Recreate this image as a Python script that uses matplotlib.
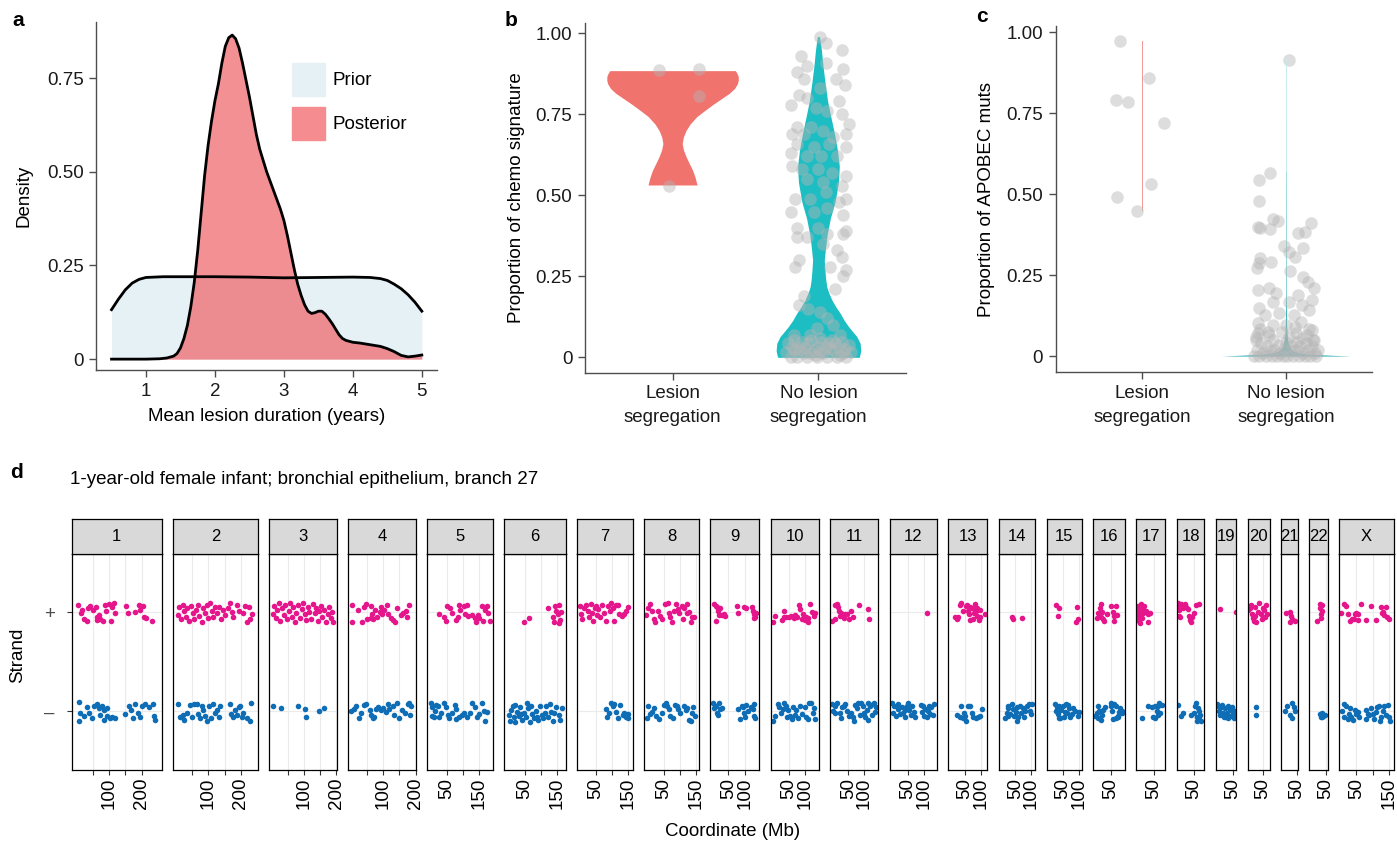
import numpy as np
import matplotlib
matplotlib.use('Agg')
import matplotlib.pyplot as plt
from matplotlib.patches import Patch

plt.rcParams['font.family'] = ['Liberation Sans', 'DejaVu Sans']

W, H = 1397, 842
fig = plt.figure(figsize=(W / 100, H / 100), dpi=100)


def box(x0, y0, x1, y1):
    # pixel box (top-left origin) -> figure rect
    return [x0 / W, 1 - y1 / H, (x1 - x0) / W, (y1 - y0) / H]


FS = 13.5
SPINE = '#4D4D4D'

# ---------------- panel a data ----------------
prior_x = [0.5, 0.6, 0.7, 0.8, 0.9, 1.0, 1.25, 1.5, 2.0, 2.5, 3.0, 3.5, 4.0, 4.25, 4.4, 4.5, 4.6, 4.7, 4.8, 4.9, 5.0]
prior_y = [0.132, 0.16, 0.185, 0.203, 0.213, 0.218, 0.22, 0.22, 0.22, 0.219, 0.217, 0.218, 0.219, 0.218, 0.215,
           0.21, 0.2, 0.188, 0.172, 0.152, 0.128]
post_x = [0.5, 0.8, 1.0, 1.2, 1.3, 1.4, 1.45, 1.5, 1.55, 1.6, 1.65, 1.7, 1.75, 1.8, 1.85, 1.9, 1.95, 2.0, 2.05,
          2.1, 2.15, 2.2, 2.25, 2.3, 2.35, 2.4, 2.45, 2.5, 2.55, 2.6, 2.65, 2.7, 2.75, 2.8, 2.85, 2.9, 2.95,
          3.0, 3.05, 3.1, 3.15, 3.2, 3.25, 3.3, 3.35, 3.4, 3.45, 3.5, 3.55, 3.6, 3.65, 3.7, 3.75, 3.8, 3.85,
          3.9, 4.0, 4.1, 4.2, 4.3, 4.4, 4.5, 4.6, 4.7, 4.8, 4.9, 5.0]
post_y = [0, 0, 0, 0.001, 0.003, 0.008, 0.015, 0.03, 0.055, 0.09, 0.14, 0.205, 0.29, 0.39, 0.49, 0.57, 0.635,
          0.69, 0.735, 0.79, 0.835, 0.858, 0.865, 0.855, 0.83, 0.79, 0.745, 0.7, 0.65, 0.6, 0.56, 0.53,
          0.5, 0.475, 0.45, 0.425, 0.4, 0.37, 0.33, 0.285, 0.24, 0.2, 0.17, 0.145, 0.128, 0.122, 0.124,
          0.128, 0.128, 0.12, 0.108, 0.095, 0.08, 0.065, 0.055, 0.05, 0.045, 0.043, 0.04, 0.037, 0.034,
          0.028, 0.02, 0.01, 0.006, 0.008, 0.011]

# ---------------- panel b data ----------------
categories = ['Lesion\nsegregation', 'No lesion\nsegregation']
b_les_y = [0.532, 0.555, 0.578, 0.60, 0.62, 0.64, 0.66, 0.68, 0.70, 0.72, 0.743, 0.76, 0.78, 0.80, 0.815,
           0.83, 0.845, 0.856, 0.868, 0.878, 0.885]
b_les_w = [0.168, 0.155, 0.137, 0.113, 0.092, 0.075, 0.066, 0.074, 0.092, 0.12, 0.166, 0.215, 0.275, 0.34,
           0.389, 0.425, 0.445, 0.451, 0.45, 0.44, 0.43]
b_no_y = [0, 0.02, 0.043, 0.064, 0.079, 0.095, 0.115, 0.136, 0.155, 0.177, 0.2, 0.218, 0.24, 0.26, 0.30,
          0.34, 0.38, 0.43, 0.48, 0.54, 0.59, 0.64, 0.69, 0.74, 0.79, 0.845, 0.9, 0.95, 0.99]
b_no_w = [0.28, 0.29, 0.286, 0.263, 0.235, 0.206, 0.175, 0.149, 0.12, 0.092, 0.07, 0.057, 0.05, 0.046, 0.04,
          0.049, 0.06, 0.082, 0.114, 0.137, 0.143, 0.13, 0.11, 0.086, 0.063, 0.046, 0.031, 0.02, 0.008]
b_les_pts = [(-0.09, 0.887), (0.18, 0.89), (0.18, 0.807), (-0.023, 0.53)]
b_no_pts = [(0.01, 0.99), (0.05, 0.97), (0.16, 0.95), (-0.12, 0.93), (-0.08, 0.90), (0.05, 0.91),
            (0.17, 0.89), (-0.15, 0.88), (-0.10, 0.86), (0.12, 0.86), (0.18, 0.84), (0.01, 0.83),
            (-0.13, 0.81), (-0.08, 0.80), (0.14, 0.79), (-0.19, 0.78), (-0.02, 0.77), (0.06, 0.76),
            (0.16, 0.75), (0.21, 0.72), (-0.15, 0.71), (-0.05, 0.71), (-0.18, 0.69), (-0.10, 0.69),
            (0.03, 0.70), (0.10, 0.68), (0.19, 0.69), (-0.15, 0.66), (-0.03, 0.65), (0.07, 0.66),
            (0.19, 0.65), (-0.19, 0.63), (-0.08, 0.62), (0.02, 0.62), (0.13, 0.62), (-0.18, 0.59),
            (-0.11, 0.58), (0.0, 0.58), (0.09, 0.57), (0.19, 0.56), (-0.08, 0.55), (0.03, 0.54),
            (0.16, 0.53), (0.05, 0.51), (-0.16, 0.49), (-0.06, 0.49), (0.14, 0.48), (0.19, 0.49),
            (-0.19, 0.45), (-0.03, 0.45), (0.06, 0.46), (0.17, 0.44), (-0.15, 0.40), (0.0, 0.40),
            (0.19, 0.39), (-0.15, 0.37), (-0.08, 0.37), (0.06, 0.38), (0.17, 0.38), (0.03, 0.35),
            (0.13, 0.33), (-0.13, 0.30), (0.16, 0.31), (-0.16, 0.28), (0.08, 0.28), (0.19, 0.27),
            (0.17, 0.25), (0.11, 0.21), (-0.10, 0.19), (-0.13, 0.16), (-0.07, 0.15), (0.01, 0.14),
            (0.06, 0.12), (0.10, 0.10), (-0.01, 0.09), (-0.17, 0.07), (-0.06, 0.07), (0.15, 0.07),
            (0.01, 0.06),
            (-0.21, 0.043), (-0.17, 0.023), (-0.14, 0.033), (-0.10, 0.012), (-0.07, 0.043), (-0.03, 0.023),
            (0.0, 0.033), (0.03, 0.012), (0.07, 0.043), (0.10, 0.023), (0.14, 0.033), (0.17, 0.012),
            (0.21, 0.038), (-0.19, 0.002), (-0.15, 0.0), (-0.11, 0.048), (-0.08, 0.0), (-0.05, 0.053),
            (-0.01, 0.0), (0.02, 0.048), (0.06, 0.0), (0.09, 0.053), (0.13, 0.0), (0.16, 0.048),
            (0.19, 0.0), (-0.18, 0.033), (-0.06, 0.012), (0.08, 0.028), (0.15, 0.007), (-0.17, 0.053),
            (-0.02, 0.007), (0.05, 0.033), (0.11, 0.043), (0.18, 0.025), (-0.13, 0.023), (-0.22, 0.017),
            (0.22, 0.017), (-0.09, 0.028), (0.01, 0.017)]

# ---------------- panel c data ----------------
c_les_y = [0.449, 0.974]
c_les_w = [0.0035, 0.0035]
c_no_y = [0, 0.003, 0.006, 0.01, 0.015, 0.022, 0.03, 0.045, 0.07, 0.1, 0.2, 0.57, 0.92]
c_no_w = [0.45, 0.3, 0.16, 0.09, 0.055, 0.035, 0.024, 0.014, 0.007, 0.004, 0.002, 0.0015, 0.0008]
c_les_pts = [(-0.154, 0.974), (0.046, 0.858), (-0.179, 0.791), (-0.097, 0.783), (0.156, 0.721),
             (0.064, 0.531), (-0.172, 0.492), (-0.034, 0.449)]
c_no_pts = [(0.023, 0.915), (-0.11, 0.564), (-0.184, 0.544), (-0.184, 0.48), (-0.092, 0.422), (-0.057, 0.418),
            (0.177, 0.41), (-0.195, 0.398), (-0.179, 0.394), (-0.11, 0.391), (0.087, 0.379), (0.133, 0.384),
            (-0.011, 0.34), (0.115, 0.333), (0.018, 0.322), (0.064, 0.307), (-0.179, 0.302), (-0.103, 0.291),
            (-0.189, 0.286), (-0.202, 0.271), (0.028, 0.264), (0.115, 0.245), (0.156, 0.23), (-0.195, 0.204),
            (-0.115, 0.209), (0.195, 0.209), (-0.069, 0.194), (0.087, 0.188), (0.184, 0.173), (0.023, 0.168),
            (-0.092, 0.168), (-0.184, 0.147), (0.11, 0.158), (0.161, 0.142), (-0.149, 0.127), (-0.046, 0.132),
            (0.057, 0.127), (-0.195, 0.101), (-0.092, 0.096), (0.0, 0.096), (0.103, 0.106), (0.184, 0.08),
            (-0.195, 0.07), (-0.126, 0.075), (0.069, 0.07), (0.149, 0.065), (0.195, 0.049), (-0.207, 0.049),
            (-0.22, 0.0), (-0.2, 0.02), (-0.19, 0.0), (-0.17, 0.04), (-0.16, 0.01), (-0.14, 0.0), (-0.13, 0.03),
            (-0.11, 0.015), (-0.1, 0.0), (-0.09, 0.05), (-0.08, 0.02), (-0.06, 0.0), (-0.05, 0.035),
            (-0.04, 0.01), (-0.02, 0.0), (-0.01, 0.025), (0.0, 0.045), (0.01, 0.0), (0.03, 0.015),
            (0.04, 0.03), (0.05, 0.0), (0.07, 0.02), (0.08, 0.045), (0.09, 0.0), (0.1, 0.03), (0.12, 0.01),
            (0.13, 0.0), (0.14, 0.04), (0.15, 0.02), (0.17, 0.0), (0.18, 0.03), (0.2, 0.01), (0.21, 0.0),
            (0.22, 0.02), (-0.21, 0.06), (-0.12, 0.065), (0.02, 0.06), (0.11, 0.055), (0.19, 0.05),
            (-0.18, 0.085), (-0.03, 0.075), (0.06, 0.09), (0.16, 0.085)]

# ---------------- panel d data (Mb, vertical jitter x100) ----------------
chroms = ['1', '2', '3', '4', '5', '6', '7', '8', '9', '10', '11', '12', '13', '14', '15', '16', '17',
          '18', '19', '20', '21', '22', 'X']
chrom_xlim = [(-15, 262), (-10, 253.5), (-6.6, 202), (-8, 201), (-11.8, 191), (-13.4, 178), (-7.4, 165),
              (-10.6, 157.6), (-7, 145.5), (-7, 143), (-5, 143), (-5.5, 140), (-1.2, 120), (-1.8, 112),
              (-0.6, 108), (-4, 94), (-5.7, 84.8), (-4, 81.7), (-4, 59.5), (2.6, 72), (1.4, 52.8),
              (-2.6, 54.3), (-4.3, 166.7)]
chrom_breaks = [[50, 100, 150, 200]] * 4 + [[50, 100, 150]] * 4 + [[50, 100]] * 7 + [[50]] * 7 + [[50, 100, 150]]
chrom_labels = [[100, 200]] * 4 + [[50, 150]] * 4 + [[50, 100]] * 7 + [[50]] * 7 + [[50, 150]]

plus_pts = [
    [(3, 7), (13, -1), (16, 2), (22, -7), (30, -9), (34, 4), (42, 6), (50, 2), (58, 5), (61, -5), (63, -8), (69, -3),
     (73, -7), (80, -9), (88, 7), (91, 1), (99, 8), (106, -9), (109, 5), (114, 9), (119, -1), (153, 6), (157, -1),
     (181, 0), (191, 7), (196, 2), (204, 6), (208, -5), (215, -6), (232, -9)],
    [(7, -3), (10, 5), (14, -7), (21, 7), (25, 1), (31, -5), (35, 4), (41, -9), (45, 6), (52, -1), (56, -7), (62, 2),
     (69, 7), (72, -4), (79, -10), (84, 4), (90, -1), (95, 7), (100, -6), (105, 9), (110, 1), (115, -5), (121, 5),
     (126, -1), (134, 5), (138, -7), (144, 2), (151, -3), (159, 4), (165, 9), (172, 0), (177, -5), (187, 7),
     (193, 1), (206, -1), (213, 6), (220, -10), (224, 5), (229, -7), (234, -2)],
    [(3, -2), (7, 6), (13, -6), (17, 2), (23, 9), (27, -9), (33, 4), (37, -3), (43, 7), (47, -7), (53, 1), (57, 9),
     (63, -5), (67, 5), (73, -10), (77, -1), (83, 7), (87, -6), (93, 3), (97, 9), (103, -2), (107, -8), (113, 5),
     (117, 0), (123, -7), (127, 8), (133, -1), (137, 4), (143, -9), (147, 1), (153, 6), (157, -5), (163, 2),
     (167, -10), (173, -2), (177, 5), (183, -6), (187, 0), (191, -10)],
    [(3, 7), (3, -10), (22, 2), (34, -10), (40, 5), (47, 8), (50, -7), (63, 6), (63, -6), (65, -2), (68, -7), (75, 2),
     (81, -5), (89, 0), (94, 5), (96, -2), (104, 2), (112, 7), (116, -2), (123, -6), (130, -8), (137, -10), (143, 4),
     (156, -3), (161, -1), (171, 1), (174, -5), (181, 7)],
    [(24, -2), (41, -5), (45, -9), (51, 6), (58, 4), (66, -1), (79, -8), (83, -5), (87, 7), (90, 2), (101, 6),
     (104, -2), (111, 7), (116, -4), (127, -3), (135, -6), (140, -10), (146, -3), (148, -6), (158, 6), (162, -9),
     (167, 2), (174, 6), (177, -1), (182, -9)],
    [(47, -10), (63, -6), (121, 4), (137, -5), (140, -10), (145, 6), (148, 1), (152, -2), (158, 7), (161, -8),
     (163, 0), (157, -11)],
    [(1, 6), (5, -2), (8, -7), (15, 4), (21, 7), (26, 1), (29, -5), (34, 8), (39, -1), (42, -9), (46, 4), (52, 6),
     (54, -3), (56, 3), (62, -5), (69, 7), (74, -1), (80, -9), (87, 6), (93, 1), (97, 9), (103, 4), (107, -9),
     (113, 7), (120, 7), (123, -2), (131, -4), (138, -2), (144, 1), (151, 5)],
    [(-5, -3), (2, 4), (6, 8), (12, 1), (20, -7), (23, -10), (31, 1), (38, -4), (45, -7), (52, 8), (63, 9), (66, -1),
     (70, -5), (74, -10), (81, 1), (88, 8), (92, 3), (98, -1), (106, 6), (109, -7), (113, 4), (120, -1), (122, 8),
     (127, 0), (133, -10), (138, -5), (144, -5)],
    [(5, 8), (10, 6), (15, 5), (12, -9), (18, 1), (22, -3), (25, 4), (30, -3), (35, -2), (38, -4), (75, 6), (78, -1),
     (98, 5), (105, 4), (122, 5), (125, 1), (130, -2), (132, -5), (128, -6), (135, -1)],
    [(-1, -10), (6, -4), (27, -8), (33, 1), (35, -5), (41, -5), (51, -5), (56, -4), (64, -6), (69, -3), (75, -5),
     (82, 7), (85, 3), (89, -7), (93, -2), (98, -5), (99, -8), (103, -5), (108, -6), (110, -10), (116, 8),
     (121, 0), (127, -4), (129, -1)],
    [(0, -9), (8, -7), (10, 7), (16, 8), (18, 5), (20, 1), (23, -4), (29, -1), (37, -6), (41, -2), (47, -2), (51, -7),
     (57, 1), (64, -5), (82, 7), (112, 3), (115, -7)],
    [(109, -1)],
    [(19, -5), (26, -7), (30, -5), (36, 7), (40, 9), (46, 1), (53, 6), (56, 7), (60, 1), (63, -2), (66, 5), (68, -8),
     (73, 4), (77, -7), (79, -1), (81, 8), (84, 1), (87, 4), (89, -4), (94, -8), (97, -5), (99, 2), (114, -2)],
    [(41, -5), (43, -7), (71, -6)],
    [(29, 7), (39, 4), (35, -4), (92, 5), (97, -7), (89, -10)],
    [(7, -6), (12, -1), (17, 4), (20, 8), (24, 0), (27, -7), (30, -9), (40, -2), (52, 6), (57, 0), (60, -4), (62, -9),
     (67, 6), (70, -3), (22, -5)],
    [(-4, -4), (-1, 6), (1, 1), (1, -6), (4, -9), (7, -2), (7, -11), (10, 8), (12, 3), (14, -6), (17, -1), (20, 6),
     (24, 1), (30, -10), (32, -2), (38, -1)],
    [(0, 9), (2, 2), (4, -4), (7, 6), (7, -5), (10, 8), (15, 4), (21, 8), (25, 5), (31, 3), (35, -4), (38, -8),
     (41, -10), (45, -5), (49, -1), (56, 7), (64, 8)],
    [(9, 3), (58, 0)],
    [(5, 2), (10, 4), (13, 7), (17, -2), (20, -6), (23, -9), (25, 5), (27, -4), (30, -10), (35, 0), (37, 9),
     (43, -2), (48, -7), (51, 4), (54, 2), (58, -5), (61, 7), (64, -2)],
    [(16, -1), (29, 0), (32, -4), (36, -7), (43, -9), (29, -10)],
    [(23, -9), (33, -2), (33, -6), (30, 4), (36, 7), (38, 1), (30, 8)],
    [(3, -1), (13, 8), (18, 6), (23, -2), (31, -9), (37, -7), (41, -7), (44, -2), (49, -1), (54, -2), (54, -8),
     (64, 8), (78, -8), (95, 6), (110, -8), (125, 5), (129, -1), (133, 0), (136, -3), (141, 5), (143, -5),
     (151, -7)],
]
minus_pts = [
    [(6, 10), (9, -2), (6, -10), (22, -5), (30, 4), (37, -2), (47, -7), (54, 6), (63, 8), (68, 3), (73, -4), (78, 6),
     (83, 1), (85, -9), (94, -5), (94, 3), (102, -7), (109, -6), (119, -7), (150, -3), (160, 6), (167, 1),
     (174, -7), (181, 8), (188, -2), (194, -6), (201, 6), (212, 8), (222, 4), (235, 8), (239, -5), (242, -9)],
    [(7, 8), (12, -6), (21, -4), (25, -9), (33, -2), (43, 7), (48, -6), (56, 8), (64, 8), (69, -3), (74, -7), (79, 6),
     (84, 1), (90, -5), (95, -10), (103, 5), (107, -7), (113, 8), (121, -2), (126, 1), (131, -6), (136, 6),
     (165, 8), (169, -3), (175, -6), (182, 1), (187, -4), (193, 4), (198, 6), (203, -6), (208, -2), (218, -7),
     (227, -10), (231, 9)],
    [(5, 5), (30, 3), (83, 6), (103, 2), (105, -6), (147, 0), (163, 3)],
    [(1, 0), (9, 2), (16, 5), (24, -7), (30, -2), (42, 7), (47, 8), (58, 1), (63, -4), (68, -7), (73, -6), (78, 2),
     (85, 4), (92, 1), (99, 3), (109, -1), (114, 8), (119, 2), (130, 6), (135, -4), (143, 9), (150, -7), (158, 1),
     (166, -2), (176, 8), (181, 9), (186, 6), (184, -4)],
    [(0, 9), (3, 4), (3, -5), (9, -6), (11, 0), (16, 7), (22, 6), (24, -6), (32, -2), (41, 9), (48, 4), (53, -4),
     (55, -7), (64, -2), (74, 7), (79, 2), (79, -8), (87, -6), (95, -4), (101, -2), (111, -6), (122, -2), (127, 9),
     (135, 4), (143, -6), (148, -3), (158, 9), (164, 0), (167, -10), (174, -1)],
    [(1, -4), (5, -10), (8, 1), (13, 6), (18, -6), (22, -11), (22, 7), (26, -1), (32, -5), (36, 4), (39, -3),
     (43, -9), (47, -2), (53, -6), (57, 9), (61, 3), (66, -11), (71, 6), (74, -3), (78, -7), (85, 0), (87, -6),
     (92, -9), (97, 5), (103, -4), (108, -7), (113, -2), (116, 6), (124, -6), (129, 8), (131, -1), (137, -10),
     (142, -2), (148, 4), (155, -4), (161, -9), (166, 3)],
    [(80, 2), (85, -6), (90, -2), (97, 9), (103, 5), (107, 8), (113, -1), (120, -7), (125, 7), (134, -4), (138, -2),
     (144, -6), (148, -3), (151, -7)],
    [(-2, -7), (2, 5), (6, -3), (12, -1), (20, 3), (27, -5), (36, -8), (45, -2), (49, 7), (55, 9), (60, 5), (66, 2),
     (70, -5), (77, -7), (84, 7), (90, 5), (95, 2), (101, -2), (111, 6), (117, 1), (122, 3), (127, -9), (133, -10),
     (138, -2), (141, 4), (146, -5)],
    [(2, 9), (5, 3), (10, 5), (15, -2), (20, 9), (25, 2), (30, 3), (18, -4), (80, 2), (85, -8), (92, 6), (98, -2),
     (100, -6), (105, 7), (110, 0), (120, 4), (128, 8), (130, -5), (132, -7), (125, 2), (95, 4)],
    [(-1, -10), (6, -5), (15, 8), (20, 4), (25, -2), (30, 2), (35, 9), (41, 6), (44, -6), (48, 1), (54, -5), (58, -8),
     (61, 4), (67, -4), (72, 1), (77, -7), (85, 5), (89, -3), (98, 4), (103, -6), (108, -8), (113, 9), (119, 9),
     (124, -2), (127, 3), (131, -8)],
    [(0, 8), (3, 0), (8, -2), (10, 5), (16, 9), (23, -2), (27, -7), (31, 4), (37, 6), (41, 8), (47, 0), (51, -5),
     (59, -2), (64, -6), (69, -10), (71, 7), (78, 3), (80, 9), (85, -4), (90, 9), (95, 6), (98, -2), (102, -6),
     (108, 1), (110, -9), (112, 9), (118, 5), (122, -4), (125, 8), (131, 9), (133, -1), (136, 4)],
    [(3, 9), (6, -2), (9, 5), (13, -5), (19, 2), (21, 8), (27, -3), (32, 4), (37, -2), (42, -6), (43, 1), (47, 6),
     (52, 9), (54, 1), (60, -4), (64, 5), (70, -1), (74, -6), (91, 7), (95, -1), (98, 5), (101, -5), (105, 2),
     (111, -6), (113, 0), (115, 6), (118, -3), (123, 4), (129, -4), (132, 8)],
    [(26, -4), (36, -6), (40, 5), (46, -7), (48, -2), (50, -5), (53, -10), (60, 6), (66, 5), (73, -2), (77, -6),
     (84, -7), (91, -6), (97, -5), (104, 2)],
    [(19, -7), (23, -2), (26, 6), (29, 3), (33, -3), (39, 8), (43, 2), (46, -5), (51, -1), (56, 4), (59, -6), (66, 5),
     (69, -2), (73, 3), (76, -6), (81, 0), (86, 6), (91, 8), (96, 0), (99, -3), (101, 8), (56, -10), (29, -5)],
    [(25, 8), (29, 0), (32, 4), (35, -3), (39, 6), (42, -7), (45, 1), (49, 5), (52, -6), (57, -1), (59, 8), (62, -2),
     (67, 3), (72, -6), (77, -3), (82, 3), (87, 0), (95, -5), (99, -1), (65, 7), (37, -7)],
    [(2, -5), (7, -2), (10, -7), (12, 5), (14, 0), (20, -9), (24, -4), (27, 1), (32, 4), (50, 9), (52, 5), (54, 0),
     (57, -8), (62, 8), (67, 5), (67, -7), (72, -5), (74, -6), (77, -1), (80, 3), (84, -2), (87, 0)],
    [(14, -7), (32, 6), (43, 4), (48, -6), (53, -7), (53, 5), (58, 0), (61, 6), (63, -4), (65, 9), (68, -2), (74, 7)],
    [(0, 7), (10, -5), (15, -2), (41, -4), (49, -2), (52, 6), (56, 9), (59, -6), (59, -10), (62, 3), (64, 0),
     (66, -8), (69, -4), (72, -10)],
    [(-1, 8), (2, 6), (6, 0), (9, -4), (15, 7), (17, 4), (20, -2), (23, -6), (25, 3), (27, -6), (30, -2), (33, -7),
     (35, 6), (40, 1), (43, -5), (48, 4), (51, -3), (54, -7), (56, 0)],
    [(29, 4), (30, -4)],
    [(12, 0), (19, 6), (34, 9), (40, 4), (43, 0), (34, -7), (29, -4)],
    [(30, -3), (33, -6), (36, -2), (40, -5), (46, -4), (38, -6)],
    [(6, 0), (10, -6), (13, 8), (18, 5), (23, -8), (27, -3), (29, 3), (34, -6), (39, -9), (44, 1), (49, -3), (54, -1),
     (57, -6), (78, 1), (80, -8), (85, -3), (90, -4), (95, 3), (100, -3), (105, -8), (110, -1), (115, 4), (120, 6),
     (122, -10), (125, -6), (131, 0), (136, 6), (141, -4), (146, 7), (151, -6), (153, -10)],
]


def style_simple(ax):
    for s in ['top', 'right']:
        ax.spines[s].set_visible(False)
    for s in ['left', 'bottom']:
        ax.spines[s].set_color(SPINE)
        ax.spines[s].set_linewidth(1.0)
    ax.tick_params(axis='both', length=5, width=1.0, color=SPINE, labelsize=FS, pad=4, labelcolor='#1a1a1a')


def label(x, y, s):
    fig.text(x / W, 1 - y / H, s, fontsize=15, fontweight='bold', ha='left', va='center')


# ================= panel a =================
axa = fig.add_axes(box(96, 21.7, 437, 370))
axa.fill_between(prior_x, prior_y, color='#E6F1F6', lw=0)
axa.plot(prior_x, prior_y, color='black', lw=2.0)
axa.fill_between(post_x, post_y, color='#EF6B70', alpha=0.75, lw=0)
axa.plot(post_x, post_y, color='black', lw=2.0)
axa.set_xlim(0.275, 5.22)
axa.set_ylim(-0.029, 0.9007)
axa.set_xticks([1, 2, 3, 4, 5])
axa.set_yticks([0, 0.25, 0.5, 0.75])
axa.set_yticklabels(['0', '0.25', '0.50', '0.75'])
axa.set_xlabel('Mean lesion duration (years)', fontsize=FS, labelpad=6)
axa.set_ylabel('Density', fontsize=FS, labelpad=10)
style_simple(axa)
axa.legend(handles=[Patch(color='#E6F1F6', label='Prior'), Patch(color='#F48C90', label='Posterior')],
           loc='upper left', bbox_to_anchor=(292 / W, 1 - 63 / H), bbox_transform=fig.transFigure,
           frameon=False, fontsize=FS, handlelength=1.75, handleheight=2.3, labelspacing=0.6,
           handletextpad=0.4, borderpad=0, borderaxespad=0)
label(12, 20, 'a')


def violin(ax, pos, ys, ws, color, alpha=1.0):
    ys = np.asarray(ys)
    ws = np.asarray(ws)
    ax.fill_betweenx(ys, pos - ws, pos + ws, color=color, lw=0, alpha=alpha)


# ================= panel b =================
axb = fig.add_axes(box(585, 22.7, 906, 372.7))
violin(axb, 1, b_les_y, b_les_w, '#F1736D')
violin(axb, 2, b_no_y, b_no_w, '#1DBEC3')
pts = np.array([(1 + dx, y) for dx, y in b_les_pts] + [(2 + dx, y) for dx, y in b_no_pts])
axb.scatter(pts[:, 0], pts[:, 1], s=82, color='#B5B5B5', alpha=0.45, lw=0, zorder=3)
axb.set_xlim(0.4, 2.6)
axb.set_ylim(-0.0475, 1.033)
axb.set_xticks([1, 2])
axb.set_xticklabels(categories, linespacing=1.55)
axb.set_yticks([0, 0.25, 0.5, 0.75, 1.0])
axb.set_yticklabels(['0', '0.25', '0.50', '0.75', '1.00'])
axb.set_ylabel('Proportion of chemo signature', fontsize=FS, labelpad=8)
style_simple(axb)
label(505, 20, 'b')

# ================= panel c =================
axc = fig.add_axes(box(1055.7, 26, 1372.3, 372.3))
pts = np.array([(1 + dx, y) for dx, y in c_les_pts] + [(2 + dx, y) for dx, y in c_no_pts])
axc.scatter(pts[:, 0], pts[:, 1], s=82, color='#B5B5B5', alpha=0.45, lw=0, zorder=2)
violin(axc, 1, c_les_y, c_les_w, '#F39A9A')
violin(axc, 2, c_no_y, c_no_w, '#36B4B6')
axc.plot([2, 2], [0.57, 0.92], color='#CDEBEC', lw=0.6, zorder=3)
axc.set_xlim(0.4, 2.6)
axc.set_ylim(-0.05, 1.019)
axc.set_xticks([1, 2])
axc.set_xticklabels(categories, linespacing=1.55)
axc.set_yticks([0, 0.25, 0.5, 0.75, 1.0])
axc.set_yticklabels(['0', '0.25', '0.50', '0.75', '1.00'])
axc.set_ylabel('Proportion of APOBEC muts', fontsize=FS, labelpad=8)
style_simple(axc)
label(976, 17, 'c')

# ================= panel d =================
label(10, 473, 'd')
fig.text(70 / W, 1 - 480 / H, '1-year-old female infant; bronchial epithelium, branch 27',
         fontsize=13.5, ha='left', va='center')

PINK = '#E5158B'
BLUE = '#0E6DB5'
d_left, d_right = 72, 1394.2
strip_top, panel_top, panel_bot = 519.3, 553.7, 770
gap = 11.3
total_mb = sum(hi - lo for lo, hi in chrom_xlim)
scale = (d_right - d_left - gap * (len(chroms) - 1)) / total_mb

x0 = d_left
for i, name in enumerate(chroms):
    lo, hi = chrom_xlim[i]
    x1 = x0 + (hi - lo) * scale
    ax = fig.add_axes(box(x0, panel_top, x1, panel_bot))
    for b in chrom_breaks[i]:
        ax.axvline(b, color='#EBEBEB', lw=0.8, zorder=0)
    for yy in (1, 2):
        ax.axhline(yy, color='#EBEBEB', lw=0.8, zorder=0)
    p = np.array(plus_pts[i], dtype=float)
    m = np.array(minus_pts[i], dtype=float)
    ax.scatter(p[:, 0], 2 + p[:, 1] / 100, s=16, color=PINK, lw=0, zorder=2)
    ax.scatter(m[:, 0], 1 + m[:, 1] / 100, s=16, color=BLUE, lw=0, zorder=2)
    ax.set_xlim(lo, hi)
    ax.set_ylim(0.41, 2.59)
    ax.set_xticks(chrom_breaks[i])
    ax.set_xticklabels([str(b) if b in chrom_labels[i] else '' for b in chrom_breaks[i]],
                       rotation=90, fontsize=13.5)
    ax.tick_params(axis='x', length=3.5, width=0.8, pad=2, color='#333333')
    if i == 0:
        ax.set_yticks([1, 2])
        ax.set_yticklabels(['\u2013', '+'], fontsize=FS, color='#4D4D4D')
        ax.tick_params(axis='y', length=3.5, width=0.8, pad=9, color='#333333')
    else:
        ax.set_yticks([])
    for s in ax.spines.values():
        s.set_color('black')
        s.set_linewidth(0.9)

    sax = fig.add_axes(box(x0, strip_top, x1, panel_top))
    sax.set_facecolor('#D9D9D9')
    sax.set_xticks([])
    sax.set_yticks([])
    for s in sax.spines.values():
        s.set_color('black')
        s.set_linewidth(0.9)
    sax.text(0.5, 0.5, name, transform=sax.transAxes, ha='center', va='center', fontsize=12)
    x0 = x1 + gap

fig.text(18 / W, 1 - 655 / H, 'Strand', rotation=90, fontsize=FS, ha='center', va='center')
fig.text(733 / W, 1 - 832 / H, 'Coordinate (Mb)', fontsize=FS, ha='center', va='center')

fig.savefig('out.png', dpi=100)
